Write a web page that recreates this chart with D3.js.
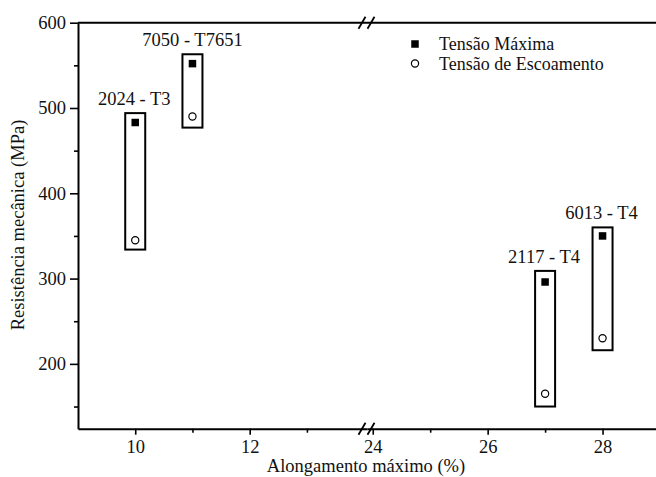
<!DOCTYPE html>
<html>
<head>
<meta charset="utf-8">
<script src="https://cdn.jsdelivr.net/npm/d3@7"></script>
<style>
  body { margin: 0; background: #fff; }
  text { font-family: "Liberation Serif", "Times New Roman", serif; fill: #111; }
</style>
</head>
<body>
<div id="chart"></div>
<script>
// data
var alloys = ["2024 - T3", "7050 - T7651", "2117 - T4", "6013 - T4"];
var elongation = [10, 11, 27, 28];
var tensaoMaxima = [483, 552, 296, 350];
var tensaoEscoamento = [345, 490, 165, 230];
var boxTop = [494, 563, 309, 360];
var boxBottom = [334, 477, 150, 216];
var xMajor1 = [10, 12], xMinor1 = [11, 13];
var xMajor2 = [24, 26, 28], xMinor2 = [25, 27];
var yMajor = [200, 300, 400, 500, 600], yMinor = [150, 250, 350, 450, 550];
var legendLabels = ["Tensão Máxima", "Tensão de Escoamento"];

function drawChart() {
  var width = 656, height = 477;
  var left = 78, top = 22.7, bottom = 428.7, brk = 367, right = 660;

  var svg = d3.select("#chart").append("svg")
    .attr("width", width).attr("height", height);

  // broken x axis: two linear pieces
  var x1 = d3.scaleLinear().domain([9, 14.05]).range([left, brk]);
  var x2 = d3.scaleLinear().domain([23.9, 29]).range([brk, right]);
  function x(v) { return v < 20 ? x1(v) : x2(v); }

  var y = d3.scaleLinear().domain([124, 600]).range([bottom, top]);

  // bottom axis, both pieces
  [[x1, xMajor1, xMinor1], [x2, xMajor2, xMinor2]].forEach(function(p) {
    var gMaj = svg.append("g").attr("transform", "translate(0," + bottom + ")")
      .call(d3.axisBottom(p[0]).tickValues(p[1]).tickFormat(d3.format("d"))
        .tickSize(6).tickSizeOuter(0).tickPadding(5));
    gMaj.select(".domain").attr("stroke-width", 2);
    gMaj.selectAll(".tick line").attr("stroke-width", 1.6);
    gMaj.selectAll(".tick text").attr("font-size", 18.5).attr("fill", "#111");
    var gMin = svg.append("g").attr("transform", "translate(0," + bottom + ")")
      .call(d3.axisBottom(p[0]).tickValues(p[2]).tickSize(4).tickFormat(""));
    gMin.select(".domain").remove();
    gMin.selectAll(".tick line").attr("stroke-width", 1.6);
  });

  // left axis
  var gy = svg.append("g").attr("transform", "translate(" + left + ",0)")
    .call(d3.axisLeft(y).tickValues(yMajor).tickFormat(d3.format("d"))
      .tickSize(8).tickSizeOuter(0).tickPadding(4));
  gy.select(".domain").attr("stroke-width", 2);
  gy.selectAll(".tick line").attr("stroke-width", 1.6);
  gy.selectAll(".tick text").attr("font-size", 18.5).attr("fill", "#111");
  var gyMin = svg.append("g").attr("transform", "translate(" + left + ",0)")
    .call(d3.axisLeft(y).tickValues(yMinor).tickSize(4).tickFormat(""));
  gyMin.select(".domain").remove();
  gyMin.selectAll(".tick line").attr("stroke-width", 1.6);

  // top frame line
  svg.append("line")
    .attr("x1", left).attr("x2", right).attr("y1", top).attr("y2", top)
    .attr("stroke", "#000").attr("stroke-width", 2);

  // break marks on top and bottom axes
  [top, bottom].forEach(function(yy) {
    [-5, 4].forEach(function(dx) {
      svg.append("line")
        .attr("x1", brk + dx - 3.5).attr("y1", yy + 6)
        .attr("x2", brk + dx + 3.5).attr("y2", yy - 6)
        .attr("stroke", "#000").attr("stroke-width", 1.8);
    });
  });

  // boxes around each alloy
  var bw = 10;
  svg.append("g").selectAll("rect")
    .data(alloys).enter().append("rect")
    .attr("x", function(d, i) { return x(elongation[i]) - bw; })
    .attr("y", function(d, i) { return y(boxTop[i]); })
    .attr("width", bw * 2)
    .attr("height", function(d, i) { return y(boxBottom[i]) - y(boxTop[i]); })
    .attr("fill", "none").attr("stroke", "#000").attr("stroke-width", 2);

  // alloy labels
  svg.append("g").selectAll("text")
    .data(alloys).enter().append("text")
    .attr("x", function(d, i) { return x(elongation[i]) + (i == 1 ? 0 : -1); })
    .attr("y", function(d, i) { return y(boxTop[i]) - 8; })
    .attr("text-anchor", "middle").attr("font-size", 18.5)
    .text(function(d) { return d; });

  // tensao maxima (filled squares)
  var s = 7.5;
  svg.append("g").selectAll("rect")
    .data(tensaoMaxima).enter().append("rect")
    .attr("x", function(d, i) { return x(elongation[i]) - s / 2; })
    .attr("y", function(d) { return y(d) - s / 2; })
    .attr("width", s).attr("height", s).attr("fill", "#000");

  // tensao de escoamento (open circles)
  svg.append("g").selectAll("circle")
    .data(tensaoEscoamento).enter().append("circle")
    .attr("cx", function(d, i) { return x(elongation[i]); })
    .attr("cy", function(d) { return y(d); })
    .attr("r", 3.6).attr("fill", "#fff").attr("stroke", "#000").attr("stroke-width", 1.2);

  // legend
  var gap = 19.5;
  var lg = svg.append("g").attr("transform", "translate(415,44)");
  lg.append("rect").attr("x", -s / 2).attr("y", -s / 2).attr("width", s).attr("height", s).attr("fill", "#000");
  lg.append("circle").attr("cx", 0).attr("cy", gap).attr("r", 3.6)
    .attr("fill", "#fff").attr("stroke", "#000").attr("stroke-width", 1.2);
  lg.selectAll("text").data(legendLabels).enter().append("text")
    .attr("x", 24).attr("y", function(d, i) { return 6 + i * gap; })
    .attr("font-size", 18).text(function(d) { return d; });

  // axis titles
  svg.append("text")
    .attr("x", 366).attr("y", 472)
    .attr("text-anchor", "middle").attr("font-size", 18.5)
    .text("Alongamento máximo (%)");
  svg.append("text")
    .attr("transform", "translate(24,225) rotate(-90)")
    .attr("text-anchor", "middle").attr("font-size", 18.5)
    .text("Resistência mecânica (MPa)");
}

drawChart();
</script>
</body>
</html>
